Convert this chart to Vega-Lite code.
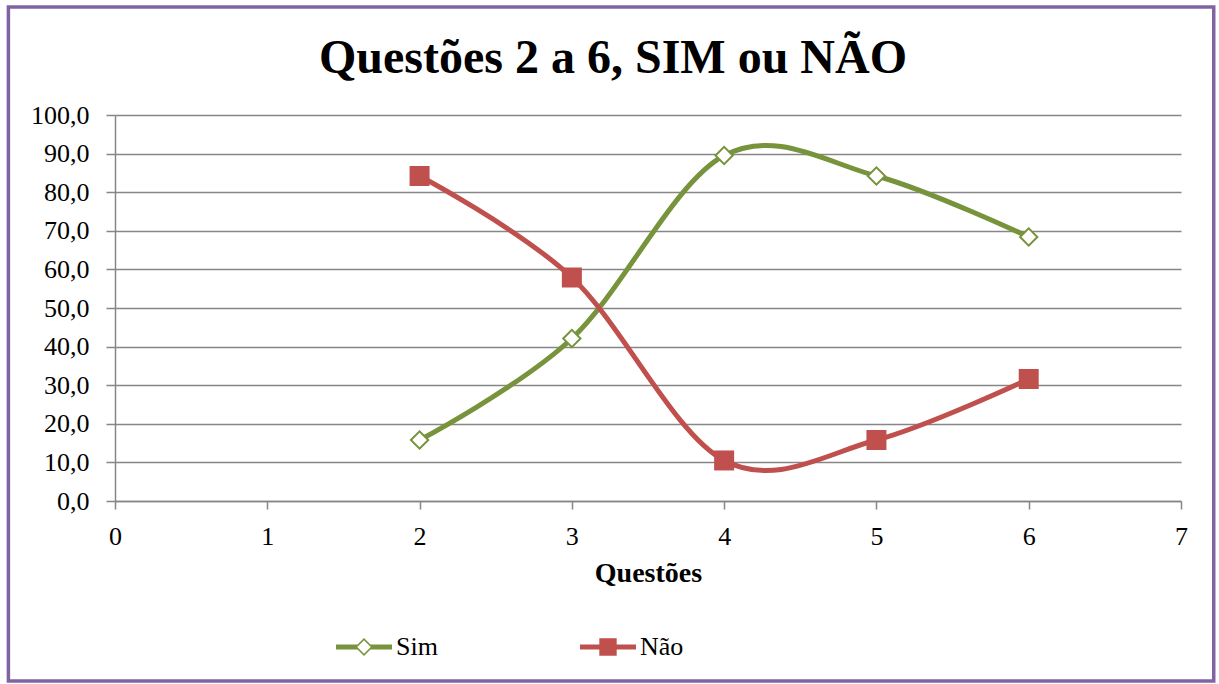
{
  "$schema": "https://vega.github.io/schema/vega-lite/v6.json",
  "width": 1066,
  "height": 386,
  "autosize": {"type": "none"},
  "padding": {"left": 115, "top": 115, "right": 38, "bottom": 183},
  "background": "white",
  "config": {
    "view": {"stroke": null},
    "font": "Liberation Serif",
    "axis": {
      "labelFont": "Liberation Serif",
      "labelFontSize": 26,
      "labelColor": "#000000",
      "domainColor": "#868686",
      "tickColor": "#868686",
      "gridColor": "#868686",
      "domainWidth": 1.5,
      "tickWidth": 1.5,
      "gridWidth": 1.5,
      "labelOverlap": false,
      "labelFlush": false
    }
  },
  "title": {
    "text": "Questões 2 a 6, SIM ou NÃO",
    "font": "Liberation Serif",
    "fontSize": 48,
    "fontWeight": "bold",
    "color": "#000000",
    "anchor": "middle",
    "baseline": "alphabetic",
    "dx": -35,
    "offset": -116
  },
  "data": {
    "values": [
      {"q": 2, "serie": "Sim", "v": 15.8},
      {"q": 3, "serie": "Sim", "v": 42.1},
      {"q": 4, "serie": "Sim", "v": 89.5},
      {"q": 5, "serie": "Sim", "v": 84.2},
      {"q": 6, "serie": "Sim", "v": 68.4},
      {"q": 2, "serie": "Não", "v": 84.2},
      {"q": 3, "serie": "Não", "v": 57.9},
      {"q": 4, "serie": "Não", "v": 10.5},
      {"q": 5, "serie": "Não", "v": 15.8},
      {"q": 6, "serie": "Não", "v": 31.6}
    ]
  },
  "layer": [
    {
      "mark": {"type": "line", "interpolate": "cardinal", "strokeWidth": 5, "strokeCap": "round"},
      "encoding": {
        "x": {
          "field": "q", "type": "quantitative",
          "scale": {"domain": [0, 7], "nice": false, "zero": false},
          "axis": {
            "values": [0, 1, 2, 3, 4, 5, 6, 7], "tickCount": 50, "format": "d", "grid": false,
            "tickSize": 8, "labelPadding": 14, "labelFlush": false,
            "title": "Questões", "titleFont": "Liberation Serif", "titleFontSize": 28,
            "titleFontWeight": "bold", "titleColor": "#000000", "titlePadding": 10
          }
        },
        "y": {
          "field": "v", "type": "quantitative",
          "scale": {"domain": [0, 100], "nice": false},
          "axis": {
            "values": [0, 10, 20, 30, 40, 50, 60, 70, 80, 90, 100],
            "tickCount": 50, "labelFlush": false,
            "labelExpr": "replace(format(datum.value, '.1f'), '.', ',')",
            "grid": true, "tickSize": 9, "labelPadding": 17, "title": null
          }
        },
        "color": {
          "field": "serie", "type": "nominal",
          "scale": {"domain": ["Sim", "Não"], "range": ["#77933C", "#C0504D"]},
          "legend": {
            "orient": "none",
            "direction": "horizontal",
            "legendX": 221,
            "legendY": 504,
            "title": null,
            "labelFont": "Liberation Serif",
            "labelFontSize": 26,
            "labelColor": "#000000",
            "symbolSize": 3136,
            "labelOffset": 4,
            "columnPadding": 142,
            "encode": {
              "symbols": {
                "update": {
                  "shape": {"signal": "datum.value === 'Sim' ? 'M-1,-0.09L-0.24,-0.09L-0.24,0.09L-1,0.09Z M0.24,-0.09L1,-0.09L1,0.09L0.24,0.09Z M-0.32,0L0,-0.32L0.32,0L0,0.32Z M-0.24,0L0,0.24L0.24,0L0,-0.24Z' : 'M-1,-0.09L1,-0.09L1,0.09L-1,0.09Z M-0.31,-0.31L0.31,-0.31L0.31,0.31L-0.31,0.31Z'"},
                  "fill": {"signal": "datum.value === 'Sim' ? '#77933C' : '#C0504D'"},
                  "stroke": {"value": "transparent"},
                  "strokeWidth": {"value": 0},
                  "size": {"value": 3136},
                  "opacity": {"value": 1},
                  "fillOpacity": {"value": 1}
                }
              }
            }
          }
        }
      }
    },
    {
      "transform": [{"filter": "datum.serie === 'Sim'"}],
      "mark": {"type": "point", "shape": "diamond", "filled": false, "fill": "white", "fillOpacity": 1, "stroke": "#77933C", "strokeWidth": 2, "size": 300, "opacity": 1},
      "encoding": {
        "x": {"field": "q", "type": "quantitative"},
        "y": {"field": "v", "type": "quantitative"}
      }
    },
    {
      "transform": [{"filter": "datum.serie === 'Não'"}],
      "mark": {"type": "square", "filled": true, "color": "#C0504D", "size": 400, "opacity": 1},
      "encoding": {
        "x": {"field": "q", "type": "quantitative"},
        "y": {"field": "v", "type": "quantitative"}
      }
    },
    {
      "data": {"values": [{}]},
      "mark": {"type": "rect", "fill": null, "stroke": "#8064A2", "strokeWidth": 3.5, "clip": false},
      "encoding": {
        "x": {"datum": -0.7, "type": "quantitative"},
        "x2": {"datum": 7.215},
        "y": {"datum": 128, "type": "quantitative"},
        "y2": {"datum": -46.6}
      }
    }
  ]
}
